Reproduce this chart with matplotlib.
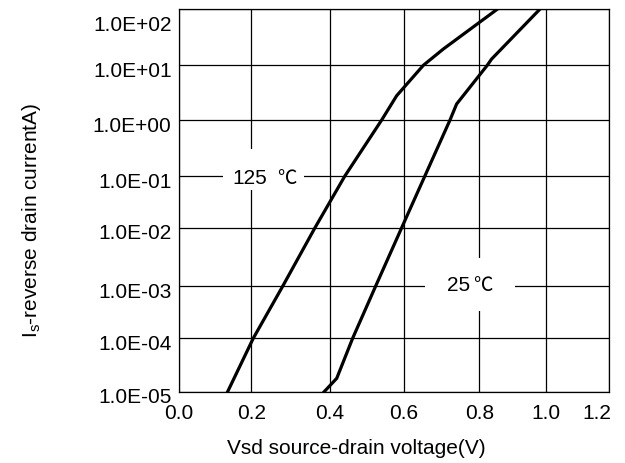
import numpy as np
import matplotlib
matplotlib.use('Agg')
import matplotlib.pyplot as plt
import matplotlib.transforms as mtrans
from matplotlib.patches import Rectangle
from matplotlib.ticker import NullLocator

plt.rcParams['font.family'] = ['Liberation Sans', 'Noto Sans CJK SC', 'DejaVu Sans']

# curves (V, A)
vsd_125 = [0.135, 0.205, 0.280, 0.3625, 0.441, 0.5405, 0.581, 0.652, 0.705, 0.855]
is_125 = [1e-5, 1e-4, 1e-3, 1e-2, 1e-1, 1.0, 2.78, 10.0, 19.5, 100.0]

vsd_25 = [0.386, 0.419, 0.462, 0.524, 0.5946, 0.656, 0.7225, 0.740, 0.824, 0.837, 0.983]
is_25 = [1e-5, 1.78e-5, 1e-4, 1e-3, 1e-2, 1e-1, 1.0, 1.96, 10.0, 12.9, 100.0]

xticks = [0.0, 0.2, 0.4, 0.6, 0.8, 1.0, 1.2]
yticks = [1e-5, 1e-4, 1e-3, 1e-2, 1e-1, 1e0, 1e1, 1e2]

# the printed grid is not evenly spaced, so map grid lines to where they sit
x_grid_px = [178.5, 251.3, 329.7, 403.7, 479.3, 545.7, 609.3]
y_dec = [-5, -4, -3, -2, -1, 0, 1, 2]
y_grid_px = [392.7, 339.3, 287.3, 228.7, 177.0, 121.0, 66.3, 10.0]


def extend(xp, fp):
    # add far-away points so interp extrapolates instead of clamping
    xp = list(xp); fp = list(fp)
    s0 = (fp[1] - fp[0]) / (xp[1] - xp[0])
    s1 = (fp[-1] - fp[-2]) / (xp[-1] - xp[-2])
    return ([xp[0] - 100] + xp + [xp[-1] + 100],
            [fp[0] - 100 * s0] + fp + [fp[-1] + 100 * s1])


xa, xb = extend(xticks, x_grid_px)
ya, yb = extend(y_dec, [-p for p in y_grid_px])


def fx(x):
    return np.interp(x, xa, xb)


def ix(v):
    return np.interp(v, xb, xa)


def fy(y):
    with np.errstate(divide='ignore', invalid='ignore'):
        d = np.log10(np.clip(y, 1e-300, None))
    return np.interp(d, ya, yb)


def iy(v):
    return 10.0 ** np.interp(v, yb, ya)


def temp_label(ax, x, y, num, gap, box):
    # white patch hiding the grid (inches around the anchor), then digits and the celsius sign
    bx, by, bw, bh = box
    trans = fig.dpi_scale_trans + mtrans.ScaledTranslation(x, y, ax.transData)
    ax.add_patch(Rectangle((bx - bw / 2, by - bh / 2), bw, bh, transform=trans,
                           fc='white', ec='none', zorder=2.5))
    ax.annotate(num, (x, y), xytext=(0, 0), textcoords='offset points', fontsize=15,
                ha='right', va='center', zorder=4, family=['Liberation Sans'])
    ax.annotate('℃', (x, y), xytext=(gap, 0), textcoords='offset points', fontsize=14,
                ha='left', va='center', zorder=4, family=['Noto Sans CJK SC'],
                fontweight='light')


fig = plt.figure(figsize=(6.25, 4.64), dpi=100)
ax = fig.add_axes([178.5 / 625, 1 - 392.7 / 464, (609.3 - 178.5) / 625, (392.7 - 10) / 464])
ax.set_xscale('function', functions=(fx, ix))
ax.set_yscale('function', functions=(fy, iy))

ax.plot(vsd_125, is_125, color='black', lw=2.3, solid_joinstyle='round', zorder=4)
ax.plot(vsd_25, is_25, color='black', lw=2.3, solid_joinstyle='round', zorder=4)
ax.set_xlim(0, 1.2)
ax.set_ylim(1e-5, 1e2)

ax.set_xticks(xticks)
ax.set_xticklabels(['%.1f' % v for v in xticks])
ax.set_yticks(yticks)
ax.set_yticklabels(['%.1E' % v for v in yticks])
ax.xaxis.set_minor_locator(NullLocator())
ax.yaxis.set_minor_locator(NullLocator())
ax.tick_params(length=0, labelsize=15)
ax.tick_params(axis='y', pad=5)
ax.tick_params(axis='x', pad=8)
ax.grid(True, color='black', lw=0.9)
ax.set_axisbelow(True)
for sp in ax.spines.values():
    sp.set_color('black')
    sp.set_linewidth(0.9)

# nudge tick labels like in the printed chart
for i, lab in enumerate(ax.get_yticklabels()):
    dy = -9.5 if i == len(yticks) - 1 else -2.2
    lab.set_transform(lab.get_transform() + mtrans.ScaledTranslation(0, dy / 72, fig.dpi_scale_trans))
xl = ax.get_xticklabels()[-1]
xl.set_transform(xl.get_transform() + mtrans.ScaledTranslation(-9 / 72, 0, fig.dpi_scale_trans))

temp_label(ax, 0.240, 0.0927, '125', 7.6, (-0.035, 0.084, 0.81, 0.41))
temp_label(ax, 0.7754, 1.094e-3, '25', 2.4, (0.0, -0.005, 0.90, 0.53))

fig.text(356 / 625, 1 - 449 / 464, 'Vsd source-drain voltage(V)', fontsize=15,
         ha='center', va='center')
fig.text(32 / 625, 1 - 220 / 464, r'I$_\mathregular{s}$-reverse drain currentA)', fontsize=15,
         ha='center', va='center', rotation=90)

ax.set_xlim(0, 1.2)
ax.set_ylim(1e-5, 1e2)
fig.savefig('out.png', dpi=100)
